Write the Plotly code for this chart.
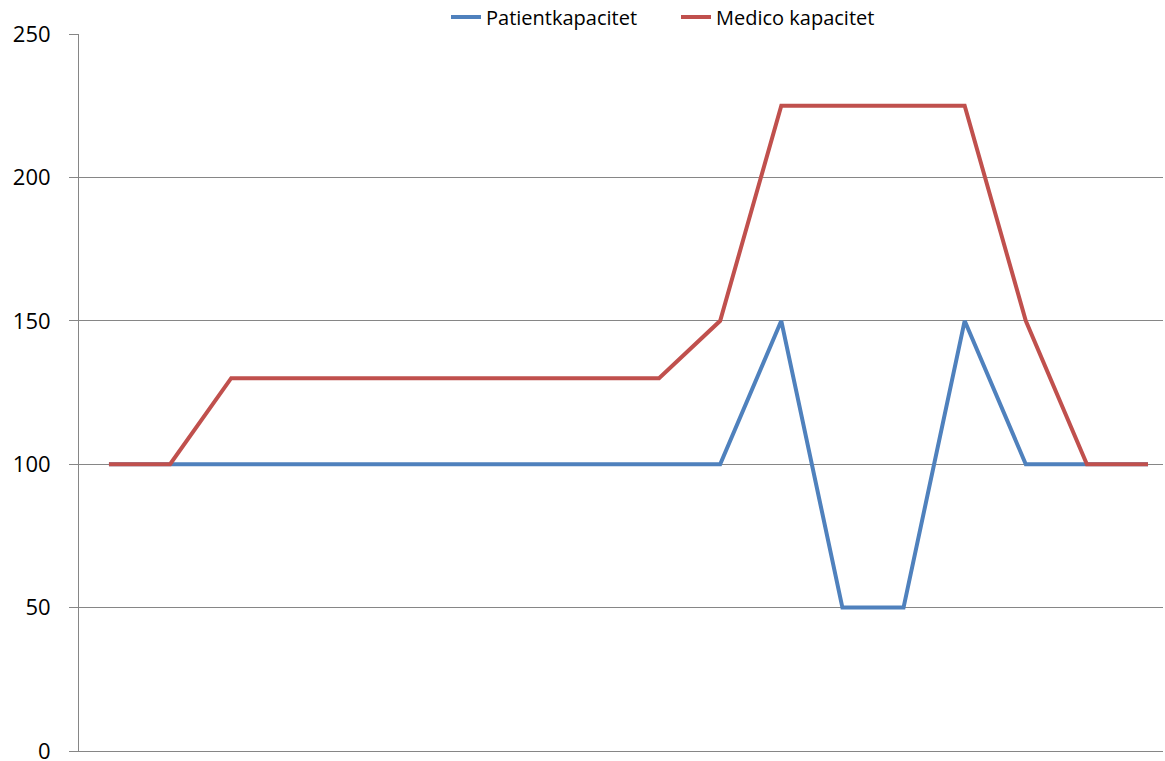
import plotly.graph_objects as go

periods = list(range(18))
patientkapacitet = [100, 100, 100, 100, 100, 100, 100, 100, 100, 100, 100, 150, 50, 50, 150, 100, 100, 100]
medico_kapacitet = [100, 100, 130, 130, 130, 130, 130, 130, 130, 130, 150, 225, 225, 225, 225, 150, 100, 100]
y_ticks = [0, 50, 100, 150, 200, 250]

fig = go.Figure()
fig.add_trace(go.Scatter(x=periods, y=patientkapacitet, mode="lines", name="Patientkapacitet",
                         line=dict(color="#4F81BD", width=4)))
fig.add_trace(go.Scatter(x=periods, y=medico_kapacitet, mode="lines", name="Medico kapacitet",
                         line=dict(color="#C0504D", width=4)))

fig.update_layout(
    width=1165, height=761,
    margin=dict(l=79, r=2, t=34, b=10, autoexpand=False),
    plot_bgcolor="white", paper_bgcolor="white",
    font=dict(family="Open Sans, Noto Sans, sans-serif", size=20, color="#000000"),
    showlegend=True,
    legend=dict(orientation="h", xref="container", x=446/1165, xanchor="left",
                yref="container", y=1 - 17/761, yanchor="middle",
                font=dict(size=20), bgcolor="rgba(0,0,0,0)",
                entrywidth=185, entrywidthmode="pixels", tracegroupgap=0),
    xaxis=dict(range=[-0.49, 17.245], showticklabels=False, showgrid=False, zeroline=False,
               showline=True, linecolor="#868686", linewidth=1, ticks=""),
    yaxis=dict(range=[0, 250], tickvals=y_ticks, showgrid=True, gridcolor="#868686", gridwidth=1,
               zeroline=False, showline=True, linecolor="#868686", linewidth=1,
               ticks="outside", ticklen=9, tickcolor="#868686", ticklabelstandoff=14,
               ticklabeloverflow="allow", tickfont=dict(size=22)),
)

fig.write_html("out.html")
